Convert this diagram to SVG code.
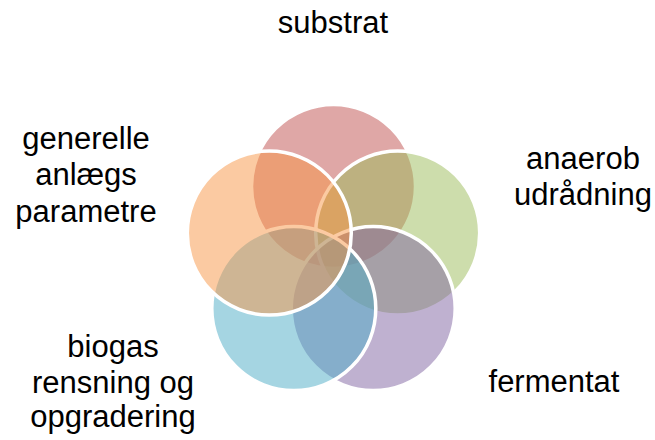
<svg xmlns="http://www.w3.org/2000/svg" width="655" height="440" viewBox="0 0 655 440">
<style>
  .c { stroke: #ffffff; stroke-width: 3.5; fill-opacity: 0.5; }
  .t { font-family: "Liberation Sans", Arial, sans-serif; font-size: 31px; fill: #000000; text-anchor: middle; }
</style>
<rect width="655" height="440" fill="#ffffff"/>
<g id="substrat">
  <circle class="c" cx="333.5" cy="186.5" r="82" fill="#C0504D"/>
  <text class="t" x="333" y="33">substrat</text>
</g>
<g id="anaerob-udraadning">
  <circle class="c" cx="397.7" cy="233.1" r="82" fill="#9BBB59"/>
  <text class="t" x="583" y="168.5">anaerob</text>
  <text class="t" x="583" y="205">udrådning</text>
</g>
<g id="fermentat">
  <circle class="c" cx="373.2" cy="308.6" r="82" fill="#8064A2"/>
  <text class="t" x="554" y="392">fermentat</text>
</g>
<g id="biogas-rensning">
  <circle class="c" cx="293.8" cy="308.6" r="82" fill="#4BACC6"/>
  <text class="t" x="113" y="357">biogas</text>
  <text class="t" x="113" y="393">rensning og</text>
  <text class="t" x="113" y="427">opgradering</text>
</g>
<g id="generelle-parametre">
  <circle class="c" cx="269.3" cy="233.1" r="82" fill="#F79646"/>
  <text class="t" x="86" y="148.5">generelle</text>
  <text class="t" x="86" y="185">anlægs</text>
  <text class="t" x="86" y="221.5">parametre</text>
</g>
</svg>
